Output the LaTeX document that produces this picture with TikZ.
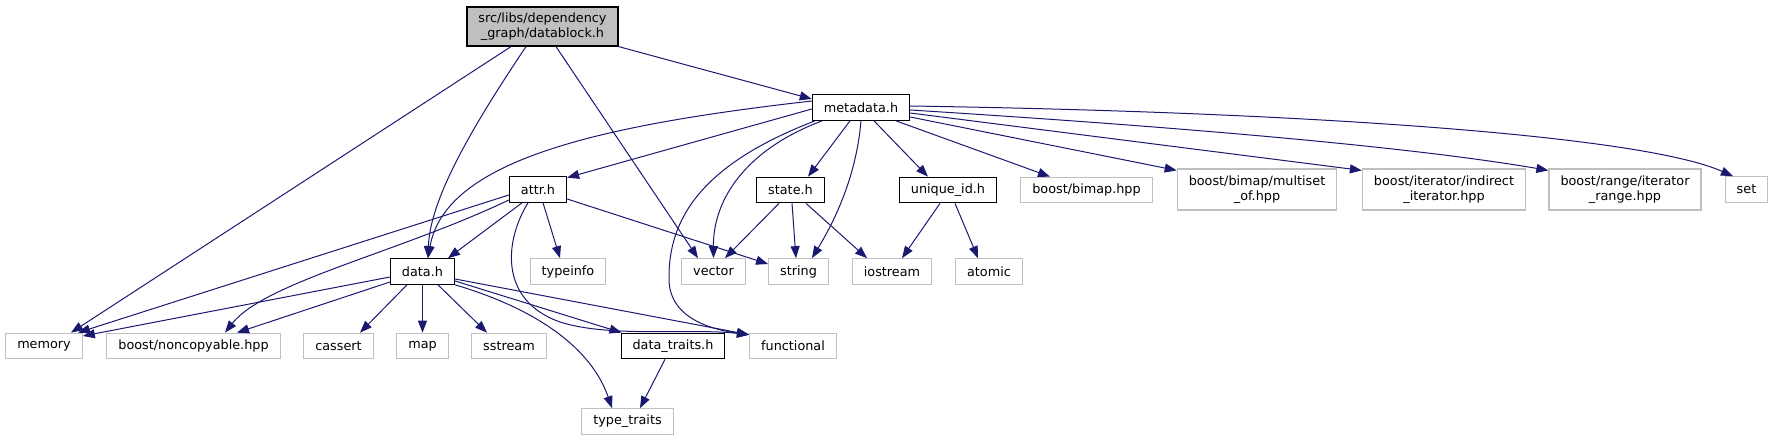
\documentclass[tikz,border=0pt]{standalone}
\usepackage{fontspec}
\setmainfont{DejaVu Sans}
\usepackage{xcolor}
\usetikzlibrary{arrows.meta}
\definecolor{edgeblue}{HTML}{191970}
\definecolor{sysgray}{HTML}{BFBFBF}

\begin{document}
\begin{tikzpicture}[x=1pt, y=-1pt, >={Triangle[length=12pt,width=9pt]},
    box/.style={rectangle, line width=1.2pt, inner xsep=11.5pt, inner ysep=0pt,
        minimum height=25.5pt, align=center, font=\fontsize{12.8}{15}\selectfont},
    hdr/.style={box, draw=black},
    sys/.style={box, draw=sysgray},
    dep/.style={->, draw=edgeblue, line width=1pt}]
    \useasboundingbox (0,0) rectangle (1773,440);

    % 1. Tệp gốc và các header của dự án
    \node[hdr, fill=sysgray, minimum height=39pt] (dblock) at (542.5,26.5) {src/libs/dependency\\\_graph/datablock.h};
    \node[hdr] (metadata) at (861,107.5) {metadata.h};
    \node[hdr] (attr) at (538,189.5) {attr.h};
    \node[hdr] (state) at (790.5,190) {state.h};
    \node[hdr] (uniqueid) at (948,190) {unique\_id.h};
    \node[hdr] (datah) at (422.5,271.5) {data.h};
    \node[hdr] (datatraits) at (673,346) {data\_traits.h};

    % 2. Các header hệ thống
    \node[sys] (bimap) at (1086.5,190) {boost/bimap.hpp};
    \node[sys, minimum height=41pt] (multiset) at (1257,189.5) {boost/bimap/multiset\\\_of.hpp};
    \node[sys, minimum height=41pt] (indirect) at (1444,189.5) {boost/iterator/indirect\\\_iterator.hpp};
    \node[sys, minimum height=41pt] (iterrange) at (1625,189.5) {boost/range/iterator\\\_range.hpp};
    \node[sys] (set) at (1746.5,189.5) {set};
    \foreach \n/\x in {typeinfo/568, vector/713.5, string/798.5, iostream/892, atomic/989} {
        \node[sys] (\n) at (\x,271.5) {\n};
    }
    \foreach \n/\x in {memory/44, cassert/338.5, map/422.5, sstream/509, functional/793} {
        \node[sys] (\n) at (\x,346) {\n};
    }
    \node[sys] (noncopy) at (193.5,346) {boost/noncopyable.hpp};
    \node[sys] (typetraits) at (627.5,421.5) {type\_traits};

    % 3. Cạnh từ datablock.h
    \draw[dep] ([xshift=-31.5pt]dblock.south) -- ([xshift=27pt]memory.north);
    \draw[dep] ([xshift=-16.5pt]dblock.south) .. controls (470,130) and (430,200) .. ([xshift=5.5pt]datah.north);
    \draw[dep] ([xshift=13.5pt]dblock.south) -- ([xshift=-15.5pt]vector.north);
    \draw[dep] (dblock.south east) -- ([yshift=8.5pt]metadata.west);

    % 4. Cạnh từ metadata.h
    \draw[dep] ([yshift=6.5pt]metadata.west) .. controls (600,125) and (445,160) .. ([xshift=5.5pt]datah.north);
    \draw[dep] ([yshift=-1.5pt]metadata.west) -- ([yshift=-1.5pt]attr.north east);
    \draw[dep] ([xshift=-39pt]metadata.south) .. controls (745,150) and (713,200) .. (vector.north);
    \draw[dep] ([xshift=-46pt]metadata.south) .. controls (700,165) and (668,220) .. (669,280)
        .. controls (670,320) and (715,330) .. ([yshift=-2pt]functional.north west);
    \draw[dep] ([xshift=-11pt]metadata.south) -- ([xshift=17.5pt]state.north);
    \draw[dep] (metadata.south) .. controls (856,180) and (832,225) .. ([xshift=13.5pt]string.north);
    \draw[dep] ([xshift=13pt]metadata.south) -- ([xshift=-20pt]uniqueid.north);
    \draw[dep] ([xshift=35pt]metadata.south) -- ([xshift=-36.5pt]bimap.north);
    \draw[dep] ([yshift=-9.5pt]metadata.east) -- ([yshift=-2pt]multiset.north west);
    \draw[dep] ([yshift=-5.5pt]metadata.east) -- ([yshift=-2pt]indirect.north west);
    \draw[dep] ([yshift=-2.5pt]metadata.east) .. controls (1150,125) and (1400,145) .. ([yshift=-2pt]iterrange.north west);
    \draw[dep] ([yshift=1.5pt]metadata.east) .. controls (1300,112) and (1640,135) .. ([xshift=-13.5pt]set.north);

    % 5. Cạnh từ attr.h
    \draw[dep] ([yshift=-5.5pt]attr.west) -- ([xshift=34pt]memory.north);
    \draw[dep] ([yshift=-10.5pt]attr.west) .. controls (400,252) and (265,282) .. ([xshift=31.5pt]noncopy.north);
    \draw[dep] ([xshift=-16pt]attr.south) -- ([xshift=25.5pt]datah.north);
    \draw[dep] ([xshift=5pt]attr.south) -- ([xshift=-8pt]typeinfo.north);
    \draw[dep] ([xshift=-10pt]attr.south) .. controls (505,240) and (498,300) .. (560,322)
        .. controls (610,338) and (690,328) .. ([yshift=-2pt]functional.north west);
    \draw[dep] ([yshift=-9.5pt]attr.east) -- ([yshift=7.5pt]string.west);

    % 6. Cạnh từ data.h
    \draw[dep] ([yshift=-5.5pt]datah.west) -- ([yshift=10pt]memory.east);
    \draw[dep] ([yshift=-10.5pt]datah.west) -- ([xshift=43.5pt]noncopy.north);
    \draw[dep] ([xshift=-15.5pt]datah.south) -- ([xshift=21.5pt]cassert.north);
    \draw[dep] (datah.south) -- (map.north);
    \draw[dep] ([xshift=15.5pt]datah.south) -- ([xshift=-22pt]sstream.north);
    \draw[dep] ([yshift=-9.5pt]datah.east) -- ([xshift=1pt]datatraits.north west);
    \draw[dep] ([yshift=-7.5pt]datah.east) -- ([yshift=-2pt]functional.north west);
    \draw[dep] (datah.south east) .. controls (540,310) and (592,350) .. ([xshift=-15.5pt]typetraits.north);
    \draw[dep] ([xshift=-8pt]datatraits.south) -- ([xshift=12.5pt]typetraits.north);

    % 7. Cạnh từ state.h và unique_id.h
    \draw[dep] ([xshift=-11.5pt]state.south) -- ([xshift=11.5pt]vector.north);
    \draw[dep] ([xshift=1.5pt]state.south) -- ([xshift=-2.5pt]string.north);
    \draw[dep] ([xshift=15.5pt]state.south) -- ([xshift=-25pt]iostream.north);
    \draw[dep] ([xshift=-8pt]uniqueid.south) -- ([xshift=10pt]iostream.north);
    \draw[dep] ([xshift=7pt]uniqueid.south) -- ([xshift=-11pt]atomic.north);
\end{tikzpicture}
\end{document}
